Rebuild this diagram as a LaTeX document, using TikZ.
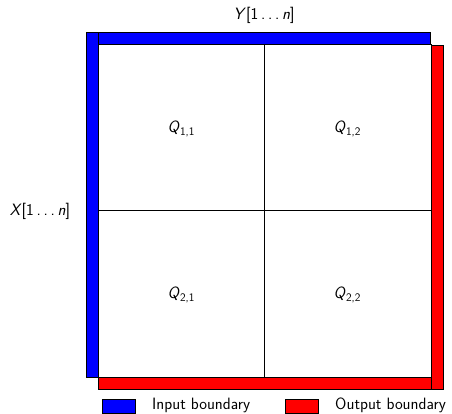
\documentclass[tikz,border=0pt]{standalone}
\begin{document}
\begin{tikzpicture}[x=1pt,y=-1pt,
  bar/.style={draw=black,line width=0.6pt},
  inb/.style={bar,fill=blue},
  outb/.style={bar,fill=red},
  lbl/.style={font=\sffamily\fontsize{16.4}{18}\selectfont,inner sep=0pt},
  legbox/.style={draw=black,line width=0.6pt,minimum width=33pt,minimum height=14pt,inner sep=0pt}]
\useasboundingbox (0,0) rectangle (452,413);
% boundaries
\draw[inb] (98,32) rectangle (430,44);
\draw[inb] (86,32) rectangle (98,377);
\draw[outb] (431,45) rectangle (443,389);
\draw[outb] (98,377) rectangle (431,389);
% main square
\node[draw=black,line width=0.6pt,minimum width=333pt,minimum height=333pt,inner sep=0pt] (sq) at (264.5,210.5) {};
\draw[line width=0.6pt] (sq.north) -- (sq.south);
\draw[line width=0.6pt] (sq.west) -- (sq.east);
% labels
\newcommand{\qsub}[1]{\raisebox{-3.5pt}{\fontsize{11.5}{13}\selectfont #1}}
\node[lbl] (ylab) at (264,15) {\textsl{Y}[1\,.\,.\,.\,\textsl{n}]};
\node[lbl] (xlab) at (40,211) {\textsl{X}[1\,.\,.\,.\,\textsl{n}]};
\node[lbl] (q11) at (181,129) {\textsl{Q}\qsub{1,1}};
\node[lbl] (q12) at (347,129) {\textsl{Q}\qsub{1,2}};
\node[lbl] (q21) at (181,295) {\textsl{Q}\qsub{2,1}};
\node[lbl] (q22) at (347,295) {\textsl{Q}\qsub{2,2}};
% legend
\node[legbox,fill=blue] (lin) at (118.5,406) {};
\node[lbl,anchor=west] (tin) at (152,405) {Input boundary};
\node[legbox,fill=red] (lout) at (302,406) {};
\node[lbl,anchor=west] (tout) at (335,405) {Output boundary};
\end{tikzpicture}
\end{document}
